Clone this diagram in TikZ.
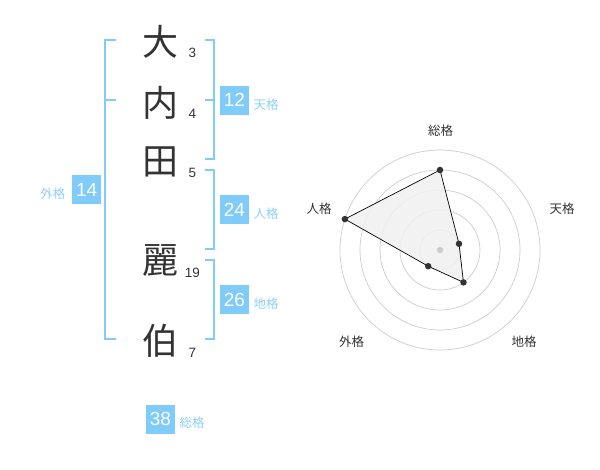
\documentclass[tikz,border=0pt]{standalone}
\usepackage{fontspec}
\setmainfont{Liberation Sans}
\newfontfamily\jp{Noto Sans CJK JP}
\definecolor{skyb}{HTML}{7FCBF9}
\definecolor{skyl}{HTML}{8ED0F7}
\definecolor{ink}{HTML}{333333}
\definecolor{ring}{HTML}{CCCCCC}
\begin{document}
\begin{tikzpicture}[x=1pt,y=-1pt,
  kanji/.style={font=\jp\fontsize{36}{36}\selectfont, text=ink, inner sep=0pt},
  strokes/.style={font=\fontsize{13.5}{14}\selectfont, text=ink, inner sep=0pt},
  numbox/.style={fill=skyb, text=white, minimum size=29pt, inner sep=0pt, font=\fontsize{19}{19}\selectfont},
  lab/.style={font=\jp\fontsize{12.5}{13}\selectfont, text=skyl, inner sep=0pt},
  rlab/.style={font=\jp\fontsize{12.5}{13}\selectfont, text=ink, inner sep=0pt},
  br/.style={draw=skyb, line width=2pt},
  ringc/.style={draw=ring, line width=0.7pt},
  pt/.style={circle, fill=ink, minimum size=6.5pt, inner sep=0pt}]
\useasboundingbox (0,0) rectangle (600,470);
% characters
\node[kanji] (c1) at (160,42) {大};
\node[kanji] (c2) at (160,103) {内};
\node[kanji] (c3) at (160,162) {田};
\node[kanji] (c4) at (160,261) {麗};
\node[kanji] (c5) at (160,341) {伯};
% stroke counts
\node[strokes] (s1) at (192.5,52.5) {3};
\node[strokes] (s2) at (192.5,113.5) {4};
\node[strokes] (s3) at (192.5,172.5) {5};
\node[strokes] (s4) at (192.5,272.5) {19};
\node[strokes] (s5) at (192.5,352.5) {7};
% brackets
\draw[br] (116,40) -- (105,40) -- (105,339.5) -- (116,339.5);
\draw[br] (105,100) -- (116,100);
\draw[br] (205,40) -- (214,40) -- (214,159.5) -- (205,159.5);
\draw[br] (205,100) -- (214,100);
\draw[br] (205,170) -- (214,170) -- (214,249.5) -- (205,249.5);
\draw[br] (205,260) -- (214,260) -- (214,339.5) -- (205,339.5);
% boxes
\node[numbox] (b12) at (234.5,100.3) {12};
\node[lab, anchor=west] (l12) at (253.5,104.3) {天格};
\node[numbox] (b24) at (234.5,210) {24};
\node[lab, anchor=west] (l24) at (253.5,214) {人格};
\node[numbox] (b26) at (234.5,300) {26};
\node[lab, anchor=west] (l26) at (253.5,303.7) {地格};
\node[numbox] (b14) at (86.7,190) {14};
\node[lab, anchor=east] (l14) at (65.5,194) {外格};
\node[numbox] (b38) at (160.5,419) {38};
\node[lab, anchor=west] (l38) at (179.5,422.7) {総格};
% radar
\coordinate (rc) at (440,250);
\foreach \r in {20,40,60,80,100} \draw[ringc] (rc) circle[radius=\r];
\coordinate (p1) at (440,170);
\coordinate (p2) at (459.0,243.8);
\coordinate (p3) at (463.5,282.4);
\coordinate (p4) at (428.2,266.2);
\coordinate (p5) at (344.9,219.1);
\filldraw[fill=black!6, fill opacity=0.85, draw=black, line width=0.7pt] (p1) -- (p2) -- (p3) -- (p4) -- (p5) -- cycle;
\node[circle, fill=ring, minimum size=6.5pt, inner sep=0pt] (cdot) at (rc) {};
\foreach \p in {p1,p2,p3,p4,p5} \node[pt] at (\p) {};
\node[rlab] (r1) at (440.7,130.7) {総格};
\node[rlab] (r2) at (562,209) {天格};
\node[rlab] (r3) at (524,342) {地格};
\node[rlab] (r4) at (351.7,342) {外格};
\node[rlab] (r5) at (319,209) {人格};
\end{tikzpicture}
\end{document}
